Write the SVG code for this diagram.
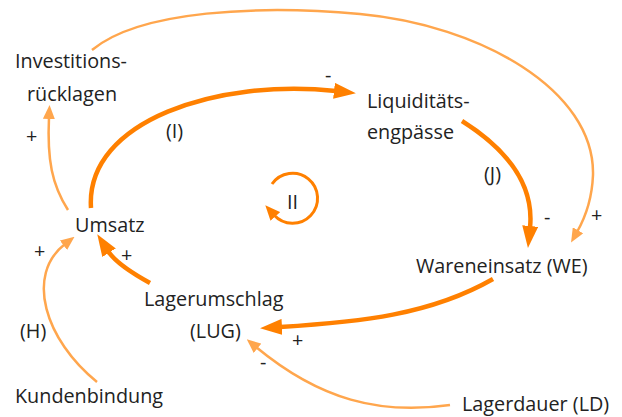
<svg xmlns="http://www.w3.org/2000/svg" width="622" height="417" viewBox="0 0 622 417">
<defs>
<style>
.t{font-family:"Open Sans","Noto Sans",sans-serif;font-size:19.8px;fill:#222}
.d{fill:none;stroke:#FF8000;stroke-width:4.5}
.l{fill:none;stroke:#FFA64D;stroke-width:2.5}
.c{fill:none;stroke:#FF8000;stroke-width:3}
</style>
<marker id="ad" markerUnits="userSpaceOnUse" markerWidth="22" markerHeight="16" refX="2" refY="8" orient="auto" viewBox="0 0 22 16"><path d="M0,0 L22,8 L0,16 z" fill="#FF8000"/></marker>
<marker id="al" markerUnits="userSpaceOnUse" markerWidth="14" markerHeight="12" refX="2" refY="6" orient="auto" viewBox="0 0 14 12"><path d="M0,0 L14,6 L0,12 z" fill="#FFA64D"/></marker>
<marker id="ac" markerUnits="userSpaceOnUse" markerWidth="15" markerHeight="13" refX="2" refY="6.5" orient="auto" viewBox="0 0 15 13"><path d="M0,0 L15,6.5 L0,13 z" fill="#FF8000"/></marker>
</defs>
<g id="connectors">
<path class="d" d="M91,208 C85,120 220,78 336,91" marker-end="url(#ad)"/>
<path class="d" d="M462,121 C500,145 535,180 530,228" marker-end="url(#ad)"/>
<path class="d" d="M493,279 C430,315 360,322 280,327" marker-end="url(#ad)"/>
<path class="d" d="M150,283 C130,272 115,262 108,251" marker-end="url(#ad)"/>
<path class="l" d="M92,50 C140,10 260,5 360,14 C480,25 595,90 593,175 C592,200 585,218 577,232" marker-end="url(#al)"/>
<path class="l" d="M68,210 C52,185 47,160 49,117" marker-end="url(#al)"/>
<path class="l" d="M97,382 C45,340 25,275 65,244" marker-end="url(#al)"/>
<path class="l" d="M450,405 C380,415 320,400 256,347" marker-end="url(#al)"/>
<path class="c" d="M272,184 A25,25 0 1 1 274,215" marker-end="url(#ac)"/>
</g>
<g id="investitionsruecklagen"><text class="t" x="15" y="68">Investitions-</text><text class="t" x="27" y="101">rücklagen</text></g>
<g id="liquiditaetsengpaesse"><text class="t" x="367" y="108">Liquiditäts-</text><text class="t" x="367" y="139">engpässe</text></g>
<g id="umsatz"><text class="t" x="75" y="232">Umsatz</text></g>
<g id="wareneinsatz"><text class="t" x="416" y="273">Wareneinsatz (WE)</text></g>
<g id="lagerumschlag"><text class="t" x="144" y="306">Lagerumschlag</text><text class="t" x="190" y="338">(LUG)</text></g>
<g id="kundenbindung"><text class="t" x="15" y="403">Kundenbindung</text></g>
<g id="lagerdauer"><text class="t" x="462" y="411">Lagerdauer (LD)</text></g>
<g id="labels">
<text class="t" x="166" y="138">(I)</text>
<text class="t" x="484" y="181">(J)</text>
<text class="t" x="287" y="209">II</text>
<text class="t" x="20" y="338">(H)</text>
<text class="t" x="325" y="82">-</text>
<text class="t" x="544" y="224">-</text>
<text class="t" x="260" y="369">-</text>
<text class="t" x="26" y="143">+</text>
<text class="t" x="34" y="258">+</text>
<text class="t" x="121" y="262">+</text>
<text class="t" x="292" y="347">+</text>
<text class="t" x="591" y="222">+</text>
</g>
</svg>
